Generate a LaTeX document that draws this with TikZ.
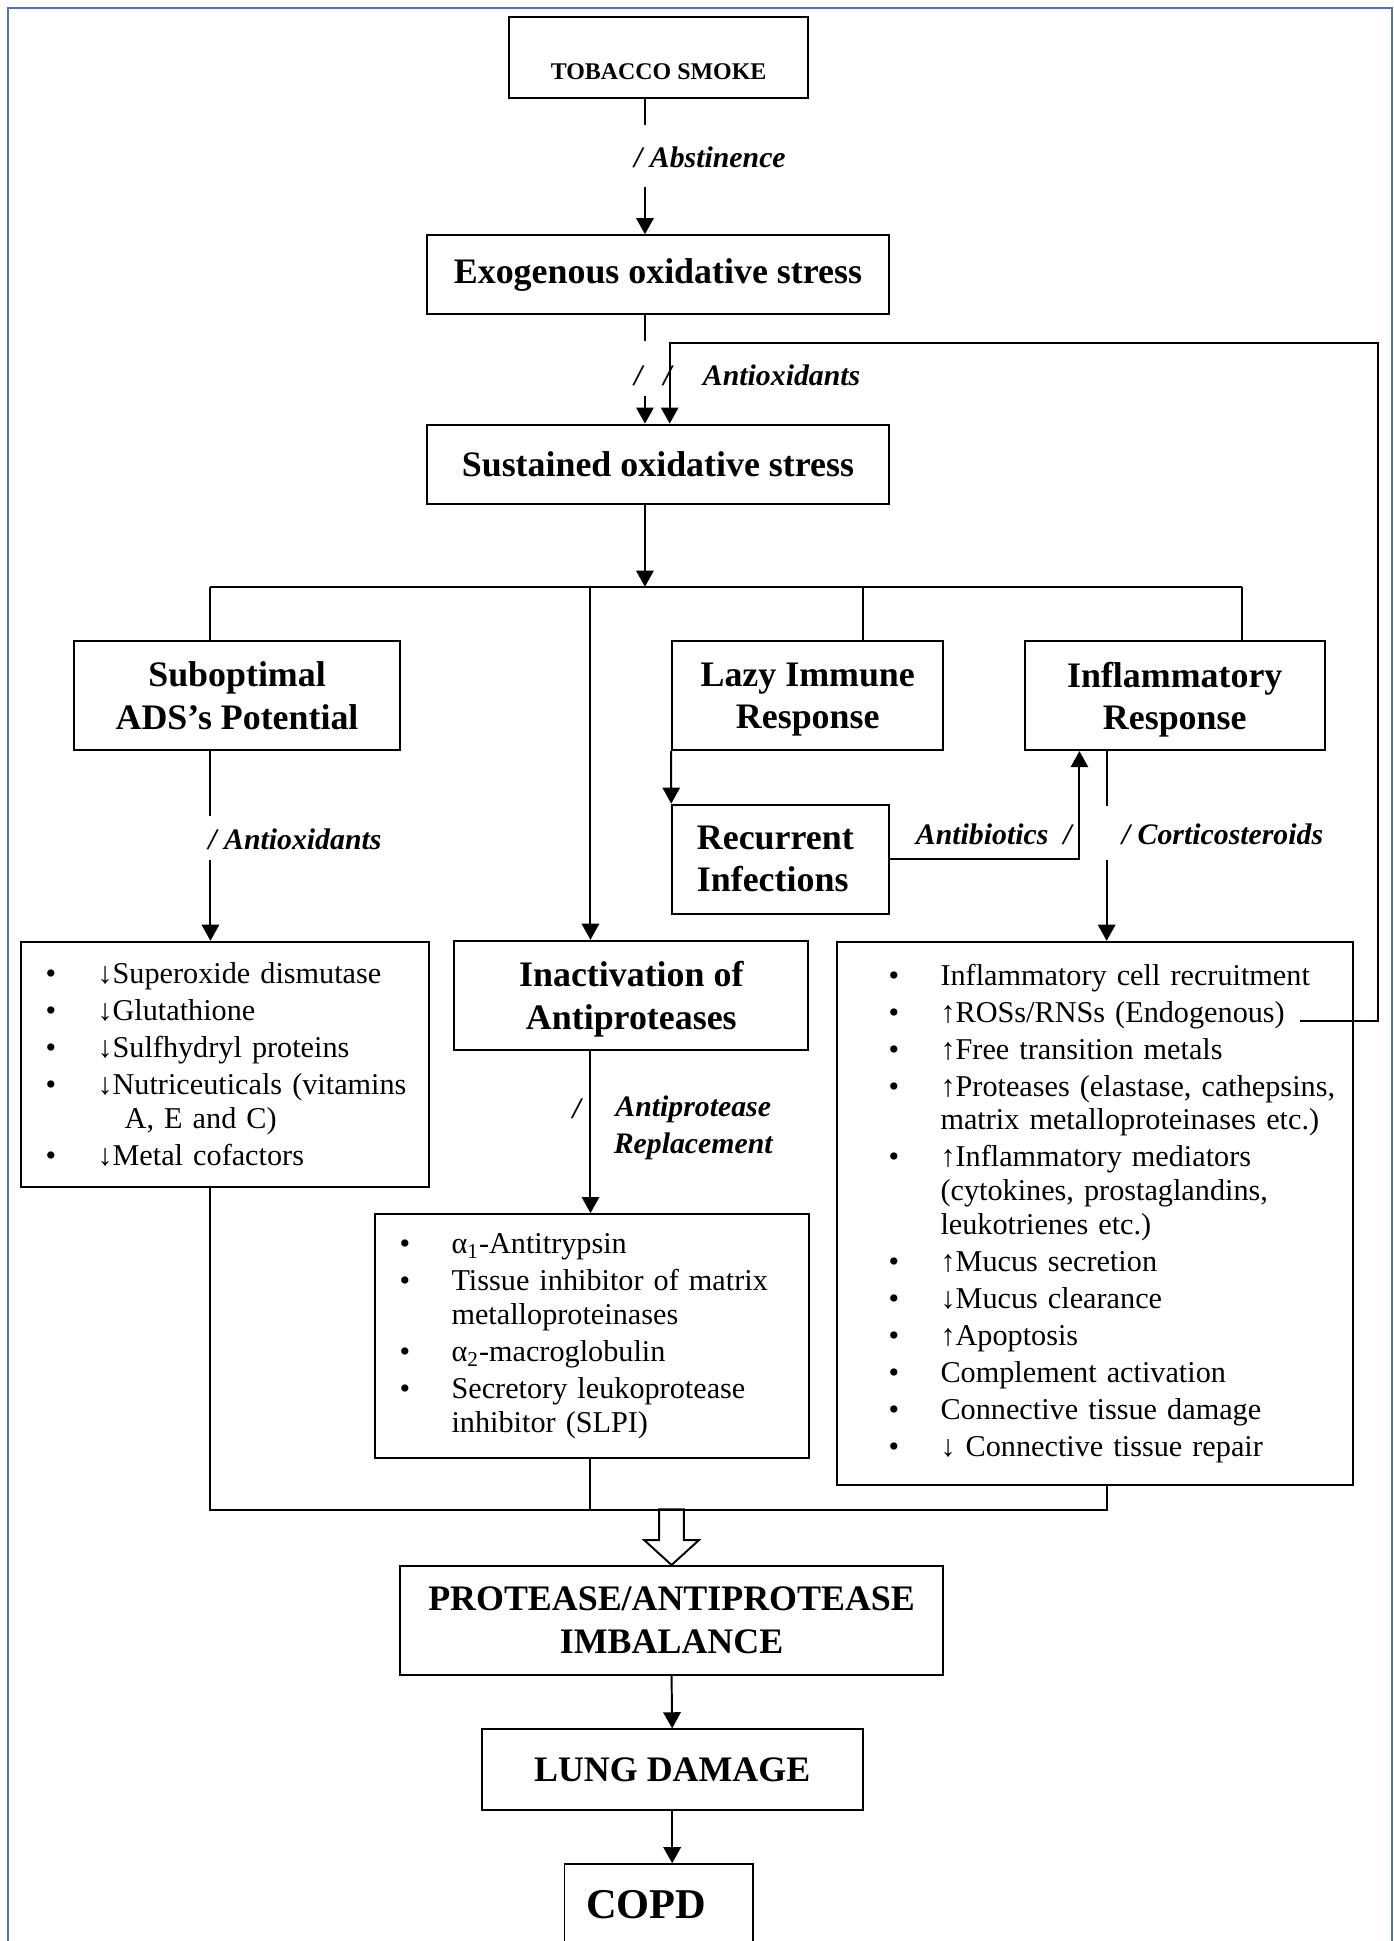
\documentclass[tikz,border=0pt]{standalone}
\usepackage{fontspec}
\setmainfont{Liberation Serif}
\usetikzlibrary{positioning, arrows.meta}

\definecolor{framecol}{RGB}{84,116,186}

\newlength\bulpos
\newlength\bulhang
\newcommand\entry[1]{\hangindent=\bulhang\hangafter=1\noindent
  \makebox[\bulhang][l]{\hspace*{\bulpos}\textbullet}#1\par}

\tikzset{
  box/.style={draw, line width=0.9pt, align=center, inner sep=0pt,
    font=\bfseries\fontsize{16.5}{19.5}\selectfont},
  listbox/.style={draw, line width=0.9pt, align=left, anchor=north west,
    inner xsep=0.2cm, inner ysep=0pt, font=\fontsize{13.9}{15.6}\selectfont},
  cue/.style={inner sep=0pt, font=\bfseries\itshape\fontsize{13.7}{17}\selectfont},
  link/.style={line width=0.9pt},
  arr/.style={line width=0.9pt, -{Triangle[length=7.4pt,width=8pt]}},
}

\begin{document}
\begin{tikzpicture}[x=0.02cm, y=-0.02cm]
  \useasboundingbox (0,0) rectangle (1126,1568);
  \clip (0,0) rectangle (1126,1568);
  \draw[framecol, line width=1pt] (6.5,1700) -- (6.5,6.5) -- (1124.5,6.5) -- (1124.5,1700);

  % boxes
  \node[box, minimum width=4.84cm, minimum height=1.30cm, text height=0.72cm, text depth=0pt,
    font=\bfseries\fontsize{11}{13}\selectfont] (smoke) at (532,46.5) {TOBACCO SMOKE};
  \node[box, minimum width=7.46cm, minimum height=1.28cm] (exo) at (531.5,222) {Exogenous oxidative stress};
  \node[box, minimum width=7.46cm, minimum height=1.28cm] (sust) at (531.5,375) {Sustained oxidative stress};
  \node[box, minimum width=5.26cm, minimum height=1.76cm, text depth=0pt] (subopt) at (191.5,562) {Suboptimal\\ADS’s Potential};
  \node[box, minimum width=4.38cm, minimum height=1.76cm, text depth=0pt] (lazy) at (652.5,562) {Lazy Immune\\Response};
  \node[box, minimum width=4.84cm, minimum height=1.76cm, text depth=0pt] (inflam) at (949,562) {Inflammatory\\Response};
  \node[box, align=left, text width=2.7cm, inner xsep=0.4cm, minimum height=1.76cm] (recur) at (630.5,694) {Recurrent\\Infections};
  \node[box, minimum width=5.72cm, minimum height=1.76cm, text depth=0pt] (inact) at (510,804) {Inactivation of\\Antiproteases};
  \node[box, minimum width=8.78cm, minimum height=1.76cm] (imbal) at (542.5,1309) {PROTEASE/ANTIPROTEASE\\IMBALANCE};
  \node[box, minimum width=6.16cm, minimum height=1.30cm] (lung) at (543,1429.5) {LUNG DAMAGE};
  \node[box, minimum width=3.04cm, minimum height=1.30cm,
    font=\bfseries\fontsize{19.5}{22}\selectfont] (copd) at (532,1538.5) {COPD\hspace*{0.4cm}};

  % lists
  \node[listbox, text width=6.2cm, minimum height=3.96cm] (ants) at (16,760) {%
    \setlength\bulpos{0.2cm}\setlength\bulhang{1.04cm}\setlength\parskip{1.4pt}%
    \entry{↓Superoxide dismutase}
    \entry{↓Glutathione}
    \entry{↓Sulfhydryl proteins}
    \entry{↓Nutriceuticals (vitamins\newline\hspace*{0.9em}A, E and C)}
    \entry{↓Metal cofactors}};
  \node[listbox, text width=6.62cm, minimum height=3.94cm] (inhib) at (302,980) {%
    \setlength\bulpos{0.2cm}\setlength\bulhang{1.04cm}\setlength\parskip{1.4pt}%
    \entry{α\textsubscript{1}-Antitrypsin}
    \entry{Tissue inhibitor of matrix\newline metalloproteinases}
    \entry{α\textsubscript{2}-macroglobulin}
    \entry{Secretory leukoprotease\newline inhibitor (SLPI)}};
  \node[listbox, text width=7.94cm, minimum height=8.78cm] (medi) at (675,760) {%
    \setlength\bulpos{0.64cm}\setlength\bulhang{1.48cm}\setlength\parskip{1.4pt}%
    \entry{Inflammatory cell recruitment}
    \entry{↑ROSs/RNSs (Endogenous)}
    \entry{↑Free transition metals}
    \entry{↑Proteases (elastase, cathepsins,\newline matrix metalloproteinases etc.)}
    \entry{↑Inflammatory mediators\newline(cytokines, prostaglandins,\newline leukotrienes etc.)}
    \entry{↑Mucus secretion}
    \entry{↓Mucus clearance}
    \entry{↑Apoptosis}
    \entry{Complement activation}
    \entry{Connective tissue damage}
    \entry{↓ Connective tissue repair}};

  % labels
  \node[cue, anchor=west] (abst) at (512,127) {/ Abstinence};
  \node[cue, anchor=west] (antiox) at (512,303) {/\hspace{0.7em}/\hspace{1.05em}Antioxidants};
  \node[cue, anchor=west] (antiox2) at (168,678) {/ Antioxidants};
  \node[cue, anchor=east] (abio) at (866,674) {Antibiotics\hspace{0.5em}/};
  \node[cue, anchor=west] (cort) at (906,674) {/ Corticosteroids};
  \node[cue] (slash) at (466,896) {/};
  \node[cue, align=center] (repl) at (560,911) {Antiprotease\\Replacement};

  % connectors
  \coordinate (spine) at (521,0);
  \coordinate (loop) at (541,0);
  \coordinate (ros) at (1050,825);
  \coordinate (back) at (1113,277);
  \coordinate (c1) at (170,474);
  \coordinate (c2) at (477,474);
  \coordinate (c3) at (697,474);
  \coordinate (c4) at (1003,474);
  \coordinate (abx) at (872,0);
  \coordinate (cx) at (894,0);
  \coordinate (low) at (0,1220);

  \draw[link] (smoke.south -| spine) -- ++(0,21);
  \draw[arr] (exo.north -| spine) ++(0,-38) -- (exo.north -| spine);
  \draw[link] (exo.south -| spine) -- ++(0,21);
  \draw[arr] (sust.north -| spine) ++(0,-22) -- (sust.north -| spine);
  \draw[arr] (ros) -| (back) -| (sust.north -| loop);
  \draw[arr] (sust.south -| spine) -- (c1 -| spine);
  \draw[link] (c1) -- (c4);
  \draw[link] (c1) -- (c1 |- subopt.north);
  \draw[arr] (c2) -- (c2 |- inact.north);
  \draw[link] (c3) -- (c3 |- lazy.north);
  \draw[link] (c4) -- (c4 |- inflam.north);
  \draw[arr] (lazy.south west) -- (recur.north west);
  \draw[arr] (recur.east) -| (inflam.south -| abx);
  \draw[link] (inflam.south -| cx) -- ++(0,44);
  \draw[arr] (medi.north -| cx) ++(0,-65) -- (medi.north -| cx);
  \draw[link] (subopt.south -| c1) -- ++(0,52);
  \draw[arr] (ants.north -| c1) ++(0,-65) -- (ants.north -| c1);
  \draw[arr] (inact.south -| c2) -- (inhib.north -| c2);

  \draw[link, fill=white] (imbal.north) -- ++(-22,-20) -- ++(12,0) -- ++(0,-25)
    -- ++(20,0) -- ++(0,25) -- ++(12,0) -- cycle;
  \draw[link] (ants.south -| c1) |- (low -| cx) -- (medi.south -| cx);
  \draw[link] (inhib.south -| c2) -- (low -| c2);
  \draw[arr] (imbal.south) -- (lung.north);
  \draw[arr] (lung.south) -- (lung.south |- copd.north);
\end{tikzpicture}
\end{document}
